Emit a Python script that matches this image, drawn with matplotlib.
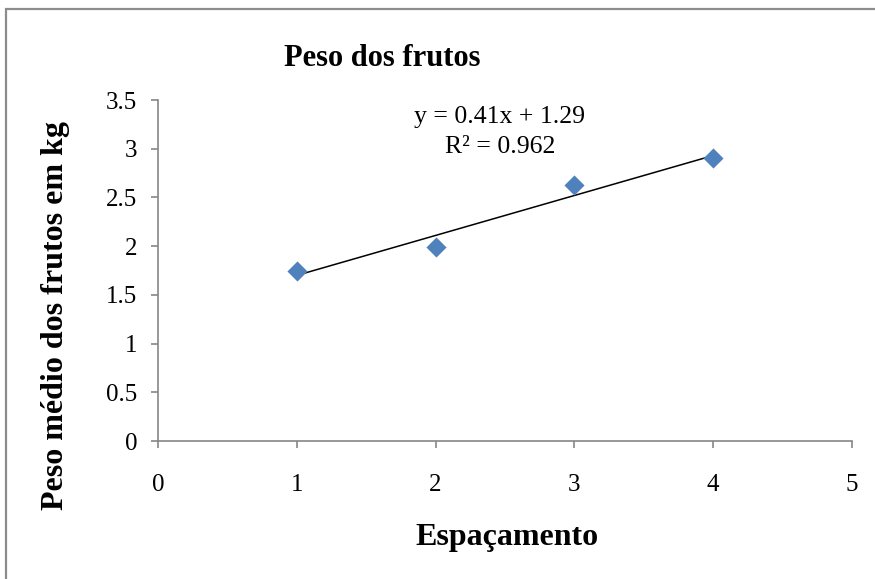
import matplotlib
matplotlib.use("Agg")
import matplotlib.pyplot as plt
import numpy as np
from matplotlib.patches import Rectangle

# espaçamento vs peso médio dos frutos
espacamento = [1, 2, 3, 4]
peso_medio = [1.75, 1.99, 2.63, 2.90]
x_ticks = [0, 1, 2, 3, 4, 5]
y_ticks = [0, 0.5, 1, 1.5, 2, 2.5, 3, 3.5]

# tendência linear (coeficientes mostrados no gráfico)
slope, intercept, r2 = 0.41, 1.29, 0.962

plt.rcParams["font.family"] = ["Liberation Serif", "DejaVu Serif"]
AXIS_GRAY = "#868686"

fig = plt.figure(figsize=(8.75, 5.79), dpi=100)
fig.patches.append(Rectangle((6 / 875, -0.1), 1.2, 1 - 9 / 579 + 0.1,
                             transform=fig.transFigure, fill=False,
                             edgecolor="#8c8c8c", linewidth=1.6))

ax = fig.add_axes([158 / 875, 138 / 579, 694 / 875, 341 / 579])
ax.scatter(espacamento, peso_medio, marker="D", s=105, color="#4F81BD",
           zorder=3, linewidths=0)
xt = np.array([espacamento[0], espacamento[-1]])
ax.plot(xt, slope * xt + intercept, color="black", linewidth=1.1, zorder=2)

ax.set_xlim(0, 5)
ax.set_ylim(0, 3.5)
ax.set_xticks(x_ticks)
ax.set_yticks(y_ticks)
ax.set_xticklabels([str(v) for v in x_ticks])
ax.set_yticklabels([f"{v:g}" for v in y_ticks])
ax.tick_params(labelsize=18, color=AXIS_GRAY, length=5, width=1.2)
ax.tick_params(axis="x", pad=19)
ax.tick_params(axis="y", pad=10)
for side in ("top", "right"):
    ax.spines[side].set_visible(False)
for side in ("left", "bottom"):
    ax.spines[side].set_color(AXIS_GRAY)
    ax.spines[side].set_linewidth(1.2)

fig.text(382 / 875, 1 - 58 / 579, "Peso dos frutos", ha="center", va="center",
         fontsize=22, fontweight="bold")
fig.text(507 / 875, 1 - 537 / 579, "Espaçamento", ha="center", va="center",
         fontsize=23, fontweight="bold")
fig.text(55 / 875, 1 - 315 / 579, "Peso médio dos frutos em kg", ha="center",
         va="center", rotation=90, fontsize=23, fontweight="bold")
fig.text(500 / 875, 1 - 117 / 579, f"y = {slope}x + {intercept}",
         ha="center", va="center", fontsize=18.5)
fig.text(500 / 875, 1 - 147 / 579, f"R² = {r2}",
         ha="center", va="center", fontsize=18.5)

fig.savefig("out.png", dpi=100)
